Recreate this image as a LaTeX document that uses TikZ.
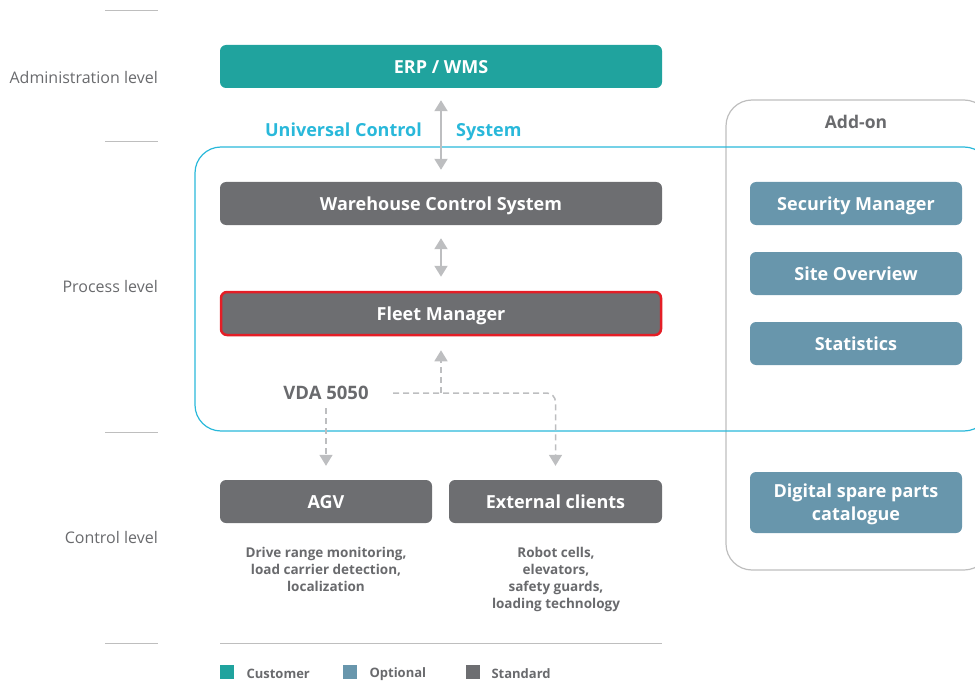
\documentclass[tikz,border=0pt]{standalone}
\usepackage{fontspec}
\setmainfont{Open Sans}
\usetikzlibrary{positioning}
\usetikzlibrary{arrows.meta}
\usetikzlibrary{calc}

\definecolor{custteal}{RGB}{32,163,158}
\definecolor{stdgray}{RGB}{109,110,113}
\definecolor{optblue}{RGB}{104,150,172}
\definecolor{ucsblue}{RGB}{41,184,218}
\definecolor{fmred}{RGB}{228,30,38}
\definecolor{arrgray}{RGB}{189,190,192}
\definecolor{txtgray}{RGB}{105,106,109}
\definecolor{linegray}{RGB}{190,190,190}

\begin{document}
\begin{tikzpicture}[x=1pt,y=-1pt,
        box/.style={rounded corners=6pt, minimum height=43pt, text=white, text height=14pt, text depth=0pt,
            font=\fontsize{18}{23}\selectfont\bfseries, align=center, inner sep=0pt},
        stdbox/.style={box, fill=stdgray},
        optbox/.style={box, fill=optblue, minimum width=212pt},
        levellabel/.style={anchor=east, inner sep=0pt, text=txtgray, font=\fontsize{16}{18}\selectfont},
        desc/.style={text=txtgray, align=center, font=\fontsize{13.5}{17}\selectfont\bfseries},
        legendtxt/.style={anchor=west, text=txtgray, font=\fontsize{13}{16}\selectfont\bfseries},
        tick/.style={linegray, line width=1pt},
        dblarr/.style={arrgray, line width=2pt, {Triangle[width=13pt,length=11pt]}-{Triangle[width=13pt,length=11pt]}},
        dasharr/.style={arrgray, line width=1.5pt, dash pattern=on 6pt off 4pt, -{Triangle[width=13pt,length=11pt]}}]
        \useasboundingbox (0,0) rectangle (975,682);
        \clip (0,0) rectangle (975,682);

        \draw[tick] (105,11) -- (158,11);
        \draw[tick] (105,142) -- (158,142);
        \draw[tick] (105,432) -- (158,432);
        \draw[tick] (105,643) -- (158,643);
        \node[levellabel] (admin) at (158,77.5) {Administration level};
        \node[levellabel] (process) at (158,286.5) {Process level};
        \node[levellabel] (control) at (158,537.5) {Control level};

        \draw[linegray, line width=1.2pt, rounded corners=26pt] (726,100) rectangle (990,570);
        \node[text=txtgray, font=\fontsize{17.5}{20}\selectfont\bfseries] (addon) at (856,122) {Add-on};
        \draw[ucsblue, line width=1.2pt, rounded corners=26pt] (195,147) rectangle (990,431);

        \node[box, fill=custteal, minimum width=442pt] (erp) at (441,66.5) {ERP / WMS};
        \node[text=ucsblue, font=\fontsize{18}{21}\selectfont\bfseries, anchor=base east, inner sep=0pt] (ucsa) at (422,136.5) {Universal Control};
        \node[text=ucsblue, font=\fontsize{18}{21}\selectfont\bfseries, anchor=base west, inner sep=0pt] (ucsb) at (456,136.5) {System};
        \node[stdbox, minimum width=442pt] (wcs) at (441,203.5) {Warehouse Control System};
        \node[stdbox, minimum width=440pt, draw=fmred, line width=2.5pt] (fleet) at (441,313.5) {Fleet Manager};
        \node[stdbox, minimum width=212pt] (agv) at (326,501.5) {AGV};
        \node[stdbox, minimum width=213pt] (ext) at (555.5,501.5) {External clients};

        \node[text=txtgray, font=\fontsize{18.5}{21}\selectfont\bfseries] (vda) at (326,393) {VDA 5050};
        \coordinate (vdaend) at (393,393);
        \coordinate (vdajoin) at (441,393);
        \coordinate (vdadown) at (326,408);

        \draw[dblarr, shorten <=12pt, shorten >=12pt] (erp) -- (wcs);
        \draw[dblarr, shorten <=13pt, shorten >=14pt] (wcs) -- (fleet);
        \draw[dasharr, shorten >=14pt] (vdajoin) -- (fleet);
        \draw[dasharr, shorten >=14pt] (vdadown) -- (agv);
        \draw[dasharr, shorten >=14pt, rounded corners=9pt] (vdaend) -| (ext);

        \node[desc, anchor=north] (agvdesc) at (326,543.5) {Drive range monitoring,\\load carrier detection,\\localization};
        \node[desc, anchor=north] (extdesc) at (556,543.5) {Robot cells,\\elevators,\\safety guards,\\loading technology};

        \node[optbox] (secman) at (856,203.5) {Security Manager};
        \node[optbox] (siteov) at (856,273.5) {Site Overview};
        \node[optbox] (stats) at (856,343.5) {Statistics};
        \node[optbox, minimum height=61pt, text height=36pt] (spare) at (856,502.5) {Digital spare parts\\catalogue};

        \draw[tick] (220,643) -- (662,643);
        \fill[custteal] (220,665) rectangle (234,679);
        \node[legendtxt] (cust) at (243,674) {Customer};
        \fill[optblue] (343,665) rectangle (357,679);
        \node[legendtxt] (opt) at (366,674) {Optional};
        \fill[stdgray] (466,665) rectangle (480,679);
        \node[legendtxt] (std) at (488,674) {Standard};
    \end{tikzpicture}
\end{document}
